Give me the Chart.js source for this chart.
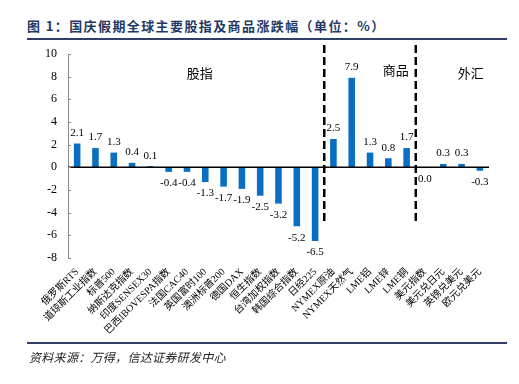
<!DOCTYPE html>
<html>
<head>
<meta charset="utf-8">
<script src="https://cdn.jsdelivr.net/npm/chart.js@4.4.1/dist/chart.umd.min.js"></script>
<style>
body { margin: 0; background: #fff; }
#wrap { position: relative; width: 519px; height: 384px; }
#c { position: absolute; left: 0; top: 0; }
.title { position: absolute; left: 27px; top: 16px; font: bold 13px "Noto Sans CJK SC", sans-serif; color: #1f3864; letter-spacing: 1.4px; }
.rule { position: absolute; left: 27px; width: 480px; background: #2f3f66; }
.src { position: absolute; left: 29px; top: 348px; font: italic 12px "Noto Sans CJK SC", sans-serif; color: #222; letter-spacing: 0.3px; }
</style>
</head>
<body>
<div id="wrap">
  <div class="title">图 1：国庆假期全球主要股指及商品涨跌幅（单位：%）</div>
  <div class="rule" style="top:38px;height:1.5px;"></div>
  <canvas id="c" width="519" height="384"></canvas>
  <div class="rule" style="top:342px;height:2px;"></div>
  <div class="src">资料来源：万得，信达证券研发中心</div>
</div>
<script>
const categories = ['俄罗斯RTS', '道琼斯工业指数', '标普500', '纳斯达克指数', '印度SENSEX30', '巴西IBOVESPA指数',
  '法国CAC40', '英国富时100', '澳洲标普200', '德国DAX', '恒生指数', '台湾加权指数', '韩国综合指数', '日经225',
  'NYMEX原油', 'NYMEX天然气', 'LME铝', 'LME锌', 'LME铜',
  '美元指数', '美元兑日元', '英镑兑美元', '欧元兑美元'];
const changes = [2.1, 1.7, 1.3, 0.4, 0.1, -0.4, -0.4, -1.3, -1.7, -1.9, -2.5, -3.2, -5.2, -6.5,
  2.5, 7.9, 1.3, 0.8, 1.7,
  0.0, 0.3, 0.3, -0.3];
const yTicks = [10, 8, 6, 4, 2, 0, -2, -4, -6, -8];
// 分组：名称，文字位置（类别序号），分隔线在哪个类别之后
const groups = ['股指', '商品', '外汇'];
const groupPos = [6.7, 17.4, 21.5];
const dividers = [13, 18];

const serif = '"Liberation Serif", "Noto Sans CJK SC", serif';

const decor = {
  id: 'decor',
  afterDatasetsDraw(chart) {
    const { ctx, scales: { x, y } } = chart;
    ctx.save();
    // 零轴
    const y0 = y.getPixelForValue(0);
    ctx.strokeStyle = '#000';
    ctx.lineWidth = 1.5;
    ctx.beginPath();
    ctx.moveTo(x.left, y0);
    ctx.lineTo(x.right, y0);
    ctx.stroke();

    // y 轴内侧刻度
    ctx.strokeStyle = '#888';
    ctx.lineWidth = 1;
    yTicks.forEach(t => {
      const py = Math.round(y.getPixelForValue(t)) + 0.5;
      ctx.beginPath();
      ctx.moveTo(x.left, py);
      ctx.lineTo(x.left + 3, py);
      ctx.stroke();
    });

    // 数据标签
    ctx.fillStyle = '#000';
    ctx.font = '11px ' + serif;
    ctx.textAlign = 'center';
    chart.getDatasetMeta(0).data.forEach((bar, i) => {
      const v = changes[i];
      if (v > 0) {
        ctx.textBaseline = 'bottom';
        ctx.fillText(v.toFixed(1), bar.x, bar.y - 5);
      } else {
        ctx.textBaseline = 'top';
        ctx.fillText(v.toFixed(1), bar.x, bar.y + 6);
      }
    });

    // 分隔虚线
    ctx.strokeStyle = '#000';
    ctx.lineWidth = 2.5;
    ctx.setLineDash([8, 4]);
    dividers.forEach(d => {
      const px = (x.getPixelForValue(d) + x.getPixelForValue(d + 1)) / 2;
      ctx.beginPath();
      ctx.moveTo(px, y.getPixelForValue(10.8));
      ctx.lineTo(px, y.getPixelForValue(-4.9));
      ctx.stroke();
    });
    ctx.setLineDash([]);

    // 分组文字
    ctx.font = '13px "Noto Sans CJK SC", sans-serif';
    ctx.textBaseline = 'middle';
    groups.forEach((g, i) => {
      ctx.fillText(g, x.getPixelForValue(groupPos[i]), y.getPixelForValue(i === 1 ? 8.6 : 8.3));
    });
    ctx.restore();
  }
};

new Chart(document.getElementById('c').getContext('2d'), {
  type: 'bar',
  data: {
    labels: categories,
    datasets: [{
      data: changes,
      backgroundColor: '#0a6fc2',
      barPercentage: 0.36,
      categoryPercentage: 1
    }]
  },
  options: {
    responsive: false,
    animation: false,
    layout: { padding: { top: 54, right: 30, left: 0, bottom: 0 } },
    plugins: { legend: { display: false }, tooltip: { enabled: false } },
    scales: {
      x: {
        grid: { display: false },
        border: { display: false },
        ticks: {
          autoSkip: false, minRotation: 45, maxRotation: 45, padding: 0,
          color: '#000', font: { family: serif, size: 10 }
        },
        afterFit(scale) { scale.height = 126; }
      },
      y: {
        min: -8, max: 10,
        grid: { display: false, drawTicks: false },
        border: { display: true, color: '#888', width: 1 },
        ticks: {
          stepSize: 2, padding: 11, color: '#000',
          font: { family: serif, size: 12 }
        },
        afterFit(scale) { scale.width = 68; }
      }
    }
  },
  plugins: [decor]
});
</script>
</body>
</html>
